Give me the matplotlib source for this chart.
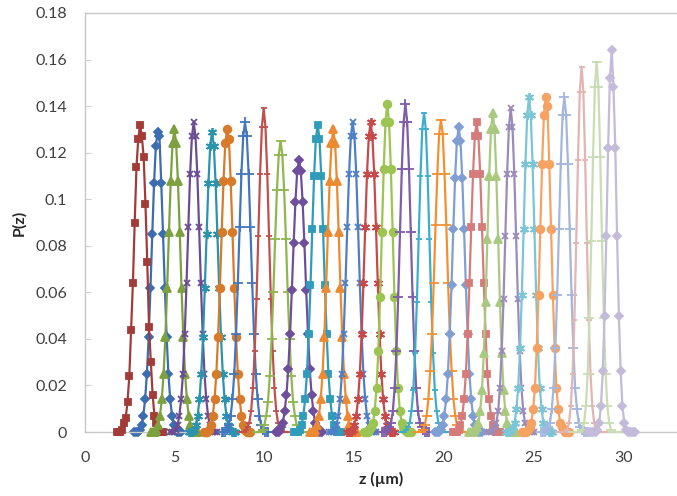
import numpy as np
import matplotlib
matplotlib.use('Agg')
import matplotlib.pyplot as plt

plt.rcParams['font.family'] = ['Lato', 'DejaVu Sans']

# peak positions (um), in the order the series were plotted
centers = [4.05, 3.07, 4.98, 6.06, 7.08, 7.92, 8.92, 9.96, 10.90, 11.93,
           12.97, 13.84, 14.92, 15.92, 16.85, 17.86, 18.90, 19.84, 20.83, 21.83,
           22.73, 23.73, 24.75, 25.68, 26.72, 27.68, 28.52, 29.36]
dz = 0.1  # sampling step of every profile

# P(z) profiles, 27 samples each, centred on the peak
p01 = [0, 0, 0, 0.001, 0.003, 0.007, 0.014, 0.025, 0.041, 0.062, 0.085, 0.107, 0.123, 0.129,
       0.127, 0.107, 0.085, 0.062, 0.041, 0.025, 0.014, 0.007, 0.003, 0.001, 0, 0, 0]
p02 = [0, 0, 0, 0.001, 0.004, 0.006, 0.013, 0.024, 0.044, 0.064, 0.090, 0.114, 0.126, 0.132,
       0.127, 0.118, 0.098, 0.073, 0.045, 0.030, 0.016, 0.007, 0.004, 0.001, 0, 0, 0]
p03 = [0, 0, 0, 0.001, 0.003, 0.007, 0.014, 0.025, 0.041, 0.062, 0.086, 0.108, 0.124, 0.130,
       0.124, 0.108, 0.086, 0.062, 0.041, 0.025, 0.014, 0.007, 0.003, 0.001, 0, 0, 0]
p04 = [0, 0, 0, 0.001, 0.003, 0.007, 0.014, 0.025, 0.042, 0.064, 0.088, 0.111, 0.127, 0.133,
       0.127, 0.111, 0.088, 0.064, 0.042, 0.025, 0.014, 0.007, 0.003, 0.001, 0, 0, 0]
p05 = [0, 0, 0, 0.001, 0.003, 0.007, 0.014, 0.025, 0.041, 0.062, 0.085, 0.107, 0.123, 0.129,
       0.123, 0.107, 0.085, 0.062, 0.041, 0.025, 0.014, 0.007, 0.003, 0.001, 0, 0, 0]
p06 = [0, 0, 0, 0.001, 0.003, 0.007, 0.014, 0.025, 0.041, 0.062, 0.086, 0.108, 0.124, 0.130,
       0.126, 0.108, 0.086, 0.062, 0.041, 0.025, 0.014, 0.007, 0.003, 0.001, 0, 0, 0]
p07 = [0, 0, 0, 0.001, 0.003, 0.007, 0.014, 0.025, 0.042, 0.064, 0.088, 0.111, 0.127, 0.133,
       0.127, 0.111, 0.088, 0.064, 0.042, 0.025, 0.014, 0.007, 0.003, 0.001, 0, 0, 0]
p08 = [0, 0, 0, 0.001, 0.002, 0.004, 0.009, 0.019, 0.035, 0.057, 0.084, 0.111, 0.131, 0.139,
       0.131, 0.111, 0.084, 0.057, 0.035, 0.019, 0.009, 0.004, 0.002, 0.001, 0, 0, 0]
p09 = [0, 0, 0, 0.001, 0.003, 0.007, 0.013, 0.024, 0.040, 0.060, 0.083, 0.104, 0.119, 0.125,
       0.119, 0.104, 0.083, 0.060, 0.040, 0.024, 0.013, 0.007, 0.003, 0.001, 0, 0, 0]
p10 = [0, 0, 0, 0.002, 0.004, 0.009, 0.016, 0.027, 0.042, 0.061, 0.081, 0.099, 0.112, 0.117,
       0.112, 0.099, 0.081, 0.061, 0.042, 0.027, 0.016, 0.009, 0.004, 0.002, 0, 0, 0]
p11 = [0, 0, 0, 0.001, 0.003, 0.007, 0.014, 0.025, 0.042, 0.063, 0.087, 0.110, 0.126, 0.132,
       0.126, 0.110, 0.087, 0.063, 0.042, 0.025, 0.014, 0.007, 0.003, 0.001, 0, 0, 0]
p12 = [0, 0, 0, 0.001, 0.003, 0.007, 0.014, 0.025, 0.041, 0.062, 0.086, 0.108, 0.124, 0.130,
       0.124, 0.108, 0.086, 0.062, 0.041, 0.025, 0.014, 0.007, 0.003, 0.001, 0, 0, 0]
p13 = [0, 0, 0, 0.001, 0.003, 0.007, 0.014, 0.025, 0.042, 0.064, 0.088, 0.111, 0.127, 0.133,
       0.127, 0.111, 0.088, 0.064, 0.042, 0.025, 0.014, 0.007, 0.003, 0.001, 0, 0, 0]
p14 = [0, 0, 0, 0.001, 0.003, 0.007, 0.014, 0.025, 0.042, 0.064, 0.088, 0.111, 0.127, 0.133,
       0.127, 0.111, 0.088, 0.064, 0.042, 0.025, 0.014, 0.007, 0.003, 0.001, 0, 0, 0]
p15 = [0, 0, 0, 0.001, 0.002, 0.004, 0.009, 0.019, 0.035, 0.058, 0.086, 0.113, 0.133, 0.141,
       0.133, 0.113, 0.086, 0.058, 0.035, 0.019, 0.009, 0.004, 0.002, 0.001, 0, 0, 0]
p16 = [0, 0, 0, 0.001, 0.002, 0.004, 0.009, 0.019, 0.035, 0.058, 0.086, 0.113, 0.133, 0.141,
       0.133, 0.113, 0.086, 0.058, 0.035, 0.019, 0.009, 0.004, 0.002, 0.001, 0, 0, 0]
p17 = [0, 0, 0, 0.001, 0.002, 0.004, 0.009, 0.018, 0.034, 0.056, 0.083, 0.110, 0.130, 0.137,
       0.130, 0.110, 0.083, 0.056, 0.034, 0.018, 0.009, 0.004, 0.002, 0.001, 0, 0, 0]
p18 = [0, 0, 0, 0.001, 0.003, 0.007, 0.014, 0.026, 0.042, 0.064, 0.089, 0.111, 0.128, 0.134,
       0.128, 0.111, 0.089, 0.064, 0.042, 0.026, 0.014, 0.007, 0.003, 0.001, 0, 0, 0]
p19 = [0, 0, 0, 0.001, 0.003, 0.007, 0.014, 0.025, 0.042, 0.063, 0.087, 0.109, 0.125, 0.131,
       0.125, 0.109, 0.087, 0.063, 0.042, 0.025, 0.014, 0.007, 0.003, 0.001, 0, 0, 0]
p20 = [0, 0, 0, 0.001, 0.003, 0.007, 0.014, 0.025, 0.042, 0.064, 0.088, 0.111, 0.127, 0.133,
       0.127, 0.111, 0.088, 0.064, 0.042, 0.025, 0.014, 0.007, 0.003, 0.001, 0, 0, 0]
p21 = [0, 0, 0, 0.001, 0.002, 0.004, 0.009, 0.018, 0.034, 0.056, 0.083, 0.110, 0.130, 0.137,
       0.130, 0.110, 0.083, 0.056, 0.034, 0.018, 0.009, 0.004, 0.002, 0.001, 0, 0, 0]
p22 = [0, 0, 0, 0.001, 0.002, 0.004, 0.009, 0.019, 0.035, 0.057, 0.084, 0.111, 0.131, 0.139,
       0.131, 0.111, 0.084, 0.057, 0.035, 0.019, 0.009, 0.004, 0.002, 0.001, 0, 0, 0]
p23 = [0, 0, 0, 0.001, 0.002, 0.004, 0.010, 0.019, 0.036, 0.059, 0.087, 0.115, 0.136, 0.144,
       0.136, 0.115, 0.087, 0.059, 0.036, 0.019, 0.010, 0.004, 0.002, 0.001, 0, 0, 0]
p24 = [0, 0, 0, 0.001, 0.002, 0.004, 0.010, 0.019, 0.036, 0.059, 0.087, 0.115, 0.136, 0.144,
       0.140, 0.115, 0.087, 0.059, 0.036, 0.019, 0.010, 0.004, 0.002, 0.001, 0, 0, 0]
p25 = [0, 0, 0, 0.001, 0.002, 0.004, 0.010, 0.019, 0.036, 0.059, 0.087, 0.115, 0.136, 0.144,
       0.136, 0.115, 0.087, 0.059, 0.036, 0.019, 0.010, 0.004, 0.002, 0.001, 0, 0, 0]
p26 = [0, 0, 0, 0, 0, 0.001, 0.004, 0.011, 0.025, 0.048, 0.081, 0.117, 0.146, 0.157,
       0.146, 0.117, 0.081, 0.048, 0.025, 0.011, 0.004, 0.001, 0, 0, 0, 0, 0]
p27 = [0, 0, 0, 0, 0, 0.001, 0.004, 0.011, 0.025, 0.049, 0.082, 0.118, 0.148, 0.159,
       0.148, 0.118, 0.082, 0.049, 0.025, 0.011, 0.004, 0.001, 0, 0, 0, 0, 0]
p28 = [0, 0, 0, 0, 0, 0.001, 0.004, 0.011, 0.026, 0.050, 0.084, 0.122, 0.152, 0.164,
       0.148, 0.122, 0.084, 0.050, 0.026, 0.011, 0.004, 0.001, 0, 0, 0, 0, 0]

profiles = [p01, p02, p03, p04, p05, p06, p07, p08, p09, p10, p11, p12, p13, p14,
            p15, p16, p17, p18, p19, p20, p21, p22, p23, p24, p25, p26, p27, p28]

# excel-like series colours: darker set, base set, lighter set
colors = ['#3C6DB0', '#A33B38', '#7DA13F', '#6A4C93', '#2B93AD', '#D77B2B',
          '#4277C0', '#C0504D', '#8FB64F', '#6F4E9C', '#2E9CBA', '#EC8A31',
          '#4E7FC6', '#C9484A', '#9CC450', '#7F5DA8', '#3CAECB', '#F49031',
          '#7F9ED3', '#D57C7B', '#A9C97F', '#9A8BBA', '#7CC5D6', '#F6A263',
          '#A3B7DE', '#E2B4B3', '#C8DDB3', '#C3BBD9']

star = (6, 2, 0)
marker_cycle = [('D', 4.2), ('s', 4.5), ('^', 5.5), ('x', 5), (star, 6.5),
                ('o', 5.5), ('+', 6.5), ('_', 4), ('_', 7.5)]

fig = plt.figure(figsize=(6.77, 4.96), dpi=100)
ax = fig.add_axes([85 / 677, 64 / 496, 592 / 677, 419 / 496])

for i, p in enumerate(profiles):
    z = centers[i] + dz * (np.arange(len(p)) - 13)
    m, ms = marker_cycle[i % len(marker_cycle)]
    ax.plot(z, p, color=colors[i], lw=1.6, marker=m, markersize=ms,
            markerfacecolor=colors[i], markeredgecolor=colors[i], markeredgewidth=1.3,
            clip_on=False, zorder=2 + i)

ax.set_xlim(0, 33)
ax.set_ylim(0, 0.18)
ax.set_xticks([0, 5, 10, 15, 20, 25, 30])
ax.set_xticklabels(['0', '5', '10', '15', '20', '25', '30'])
ax.set_yticks([0, 0.02, 0.04, 0.06, 0.08, 0.1, 0.12, 0.14, 0.16, 0.18])
ax.set_yticklabels(['0', '0.02', '0.04', '0.06', '0.08', '0.1', '0.12', '0.14', '0.16', '0.18'])

ax.tick_params(axis='x', length=0, pad=14, labelsize=11.5, labelcolor='#404040')
ax.tick_params(axis='y', direction='in', length=4, color='#D0D0D0', pad=13,
               labelsize=11.5, labelcolor='#404040')

for side in ['left', 'bottom', 'top']:
    ax.spines[side].set_color('#C8C8C8')
    ax.spines[side].set_linewidth(1.0)
ax.spines['right'].set_visible(False)

ax.set_xlabel('z (µm)', fontsize=11.5, fontweight='bold', color='#262626', labelpad=5)
ax.set_ylabel('P(z)', fontsize=11.5, fontweight='bold', color='#262626', labelpad=6)

fig.savefig('out.png', dpi=100)
